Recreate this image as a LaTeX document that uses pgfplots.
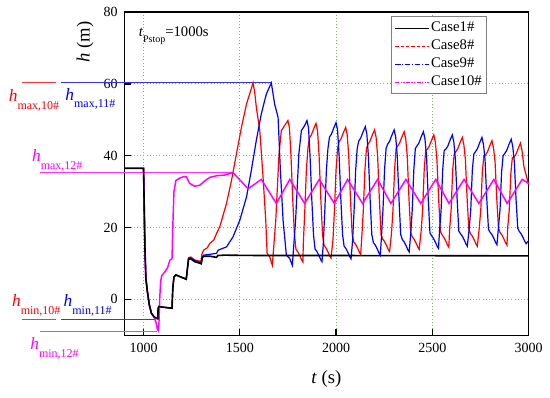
\documentclass[border=0pt]{standalone}
\usepackage{fontspec}
\setmainfont{Liberation Serif}
\usepackage{pgfplots}
\pgfplotsset{compat=1.18}
\definecolor{gridgreen}{RGB}{110,190,110}
\definecolor{mag}{RGB}{255,0,255}
\begin{document}
\begin{tikzpicture}
\useasboundingbox (-93.2pt,-46.35pt) rectangle (319.3pt,251.4pt);
\begin{axis}[
  at={(0,0)}, anchor=south west,
  scale only axis, width=303.2pt, height=242.3pt,
  xmin=900, xmax=3000, ymin=-10, ymax=80,
  xtick={1000,1500,2000,2500,3000}, ytick={0,20,40,60,80},
  tick align=inside, tick pos=left,
  major tick length=5pt,
  axis line style={line width=1pt},
  every tick/.style={black, line width=1pt},
  grid=major, grid style={dotted, gridgreen, line width=0.7pt},
  clip=false,
  /pgf/number format/assume math mode=true,
  /pgf/number format/1000 sep={},
  ticklabel style={font=\fontsize{10.5}{12}\selectfont},
  yticklabel style={xshift=-1.5pt},
  xticklabel style={yshift=-2.5pt},
  xlabel={\textit{t} (s)},
  ylabel={\textit{h} (m)},
  label style={font=\fontsize{14}{16}\selectfont},
  xlabel style={at={(axis description cs:0.5,-0.136)}, anchor=center},
  ylabel style={at={(axis description cs:-0.097,0.907)}, anchor=center},
  legend image code/.code={\draw[#1] (0pt,0pt) -- (25pt,0pt);},
  legend cell align=left,
  legend style={at={(axis description cs:0.897,0.988)}, anchor=north east,
    draw=gray, line width=0.8pt, fill=white,
    font=\fontsize{11}{13}\selectfont, inner xsep=2pt, inner ysep=2pt,
    row sep=0pt,
    nodes={inner sep=1.5pt, text height=8pt, text depth=2.5pt}},
]
% legend images
\addlegendimage{black, line width=1pt}
\addlegendentry{Case1\#}
\addlegendimage{red, line width=0.8pt, dash pattern=on 2.5pt off 1.5pt}
\addlegendentry{Case8\#}
\addlegendimage{blue, line width=0.8pt, dash pattern=on 4pt off 1.2pt on 1pt off 1.2pt}
\addlegendentry{Case9\#}
\addlegendimage{mag, line width=0.8pt, dash pattern=on 3pt off 1pt on 1pt off 1pt on 1pt off 1pt}
\addlegendentry{Case10\#}

% annotation lines
\draw[red!80, line width=0.6pt] (axis cs:370,60.4) -- (axis cs:546,60.4);
\draw[blue!80, line width=0.6pt] (axis cs:570,60.4) -- (axis cs:1664,60.4);
\draw[mag!80, line width=0.6pt] (axis cs:463,35.3) -- (axis cs:1465,35.3);
\draw[red!80, line width=0.6pt] (axis cs:368,-5.55) -- (axis cs:546,-5.55);
\draw[blue!80, line width=0.6pt] (axis cs:572,-5.5) -- (axis cs:1059,-5.5);
\draw[mag!80, line width=0.6pt] (axis cs:463,-8.83) -- (axis cs:1070,-8.83);

% Case8 (red)
\addplot[red, line width=0.9pt, forget plot] coordinates {
(1000,36.5) (1003,28) (1007,15) (1012,6) (1019,2.6) (1030,-1.5) (1041,-3.9) (1055,-4.9) (1067,-5.3) (1074,-5.4) (1076,-2.5) (1080,-2.0) (1100,-2.2) (1120,-2.3) (1148,-2.5) (1152,3) (1158,6.2) (1168,6.8) (1190,6.3) (1222,5.6) (1228,8.5) (1234,11.6) (1245,11.8) (1265,11.0) (1298,10.5) (1303,12.5) (1312,13.7) (1330,14.3) (1345,15.6) (1365,16.5) (1379,18.3) (1396,20.2) (1431,26.7) (1457,33.1) (1483,40.6) (1509,48) (1535,54.4) (1569,60.3) (1578,57.5) (1586,53.5) (1604,47) (1621,34) (1635,22) (1642,12.8) (1655,11.9) (1669,9.5) (1687,22) (1704,40.6) (1716,47) (1733,48.4) (1750,49.8)
(1758,47.8) (1766,40) (1775,28) (1784,18) (1792,13.9) (1802,13.2) (1814,11.9) (1822,10.9) (1828,10.4) (1830,15.4) (1838,25) (1846,36) (1854,42) (1862,45.0) (1872,45.8) (1884,47.5) (1896,49.0)
(1904,47.0) (1912,40) (1921,28) (1930,18) (1938,15.0) (1948,14.3) (1960,13.0) (1968,12.0) (1974,11.5) (1984,16.5) (1992,25) (2000,36) (2008,42) (2016,43.9) (2026,44.7) (2038,46.4) (2050,47.9)
(2058,45.9) (2066,40) (2075,28) (2084,18) (2092,16.0) (2102,15.3) (2114,14.0) (2122,13.0) (2128,12.5) (2134,17.5) (2142,25) (2150,36) (2158,42) (2166,43.2) (2176,44.0) (2188,45.7) (2200,47.2)
(2208,45.2) (2216,40) (2225,28) (2234,18) (2242,16.8) (2252,16.1) (2264,14.8) (2272,13.8) (2278,13.3) (2288,18.3) (2296,25) (2304,36) (2312,42) (2320,42.7) (2330,43.5) (2342,45.2) (2354,46.7)
(2362,44.7) (2370,40) (2379,28) (2388,18.5) (2396,17.4) (2406,16.7) (2418,15.4) (2426,14.4) (2432,13.9) (2442,18.9) (2450,25) (2458,36) (2466,41.5) (2474,41.8) (2484,42.6) (2496,44.3) (2508,45.8)
(2516,43.8) (2524,39) (2533,28) (2542,19) (2550,18.0) (2560,17.3) (2572,16.0) (2580,15.0) (2586,14.5) (2590,19.5) (2598,25) (2606,36) (2614,40.5) (2622,41.1) (2632,41.9) (2644,43.6) (2656,45.1)
(2664,43.1) (2672,39) (2681,28) (2690,19.5) (2698,18.3) (2708,17.6) (2720,16.3) (2728,15.3) (2734,14.8) (2744,19.8) (2752,25) (2760,35.5) (2768,40) (2776,40.2) (2786,41.0) (2798,42.7) (2810,44.2)
(2818,42.2) (2826,38.5) (2835,28) (2844,19.8) (2852,18.6) (2862,17.9) (2874,16.6) (2882,15.6) (2888,15.1) (2892,20.1) (2900,25) (2908,35) (2916,39.5) (2924,39.5) (2934,40.3) (2946,42.0) (2958,43.5)
(2966,41.5) (2976,37) (2988,34.5) (3000,32)
};

% Case9 (blue)
\addplot[blue, line width=0.9pt, forget plot] coordinates {
(1000,36.5) (1003,28) (1007,15) (1012,6) (1019,2.6) (1030,-1.5) (1041,-3.9) (1055,-4.9) (1067,-5.3) (1074,-5.4) (1076,-2.5) (1080,-2.0) (1100,-2.2) (1120,-2.3) (1148,-2.5) (1152,3) (1158,6.2) (1168,6.8) (1190,6.3) (1222,5.6) (1228,8.5) (1234,11.4) (1245,11.5) (1265,10.8) (1300,10.2) (1305,11.8) (1312,12.3) (1379,12.8) (1388,13.7) (1431,14.6) (1465,17.4) (1500,22) (1535,28.5) (1560,35.9) (1586,44.3) (1612,51.7) (1638,57.2) (1664,60.3) (1681,54.4) (1699,50.7) (1711,35.9) (1725,22) (1742,12.3) (1759,11.4) (1773,9.5) (1790,22) (1807,40.6) (1820,47) (1837,48.4) (1849,49.8)
(1857,47.8) (1865,40) (1874,28) (1883,18) (1891,14.0) (1901,13.3) (1913,12.0) (1921,11.0) (1927,10.5) (1934,15.5) (1942,25) (1950,36) (1958,42) (1966,45.2) (1976,46.0) (1988,47.7) (2000,49.2)
(2008,47.2) (2016,40) (2025,28) (2034,18) (2042,14.8) (2052,14.1) (2064,12.8) (2072,11.8) (2078,11.3) (2086,16.3) (2094,25) (2102,36) (2110,42) (2118,44.1) (2128,44.9) (2140,46.6) (2152,48.1)
(2160,46.1) (2168,40) (2177,28) (2186,18) (2194,15.8) (2204,15.1) (2216,13.8) (2224,12.8) (2230,12.3) (2236,17.3) (2244,25) (2252,36) (2260,42) (2268,43.2) (2278,44.0) (2290,45.7) (2302,47.2)
(2310,45.2) (2318,40) (2327,28) (2336,18) (2344,16.7) (2354,16.0) (2366,14.7) (2374,13.7) (2380,13.2) (2388,18.2) (2396,25) (2404,36) (2412,42) (2420,42.7) (2430,43.5) (2442,45.2) (2454,46.7)
(2462,44.7) (2470,40) (2479,28) (2488,18.5) (2496,17.7) (2506,17.0) (2518,15.7) (2526,14.7) (2532,14.2) (2538,19.2) (2546,25) (2554,36) (2562,41.5) (2570,41.8) (2580,42.6) (2592,44.3) (2604,45.8)
(2612,43.8) (2620,39) (2629,28) (2638,19) (2646,18.3) (2656,17.6) (2668,16.3) (2676,15.3) (2682,14.8) (2692,19.8) (2700,25) (2708,36) (2716,40.5) (2724,41.1) (2734,41.9) (2746,43.6) (2758,45.1)
(2766,43.1) (2774,39) (2783,28) (2792,19.5) (2800,18.7) (2810,18.0) (2822,16.7) (2830,15.7) (2836,15.2) (2844,20.2) (2852,25) (2860,35.5) (2868,40) (2876,40.6) (2886,41.4) (2898,43.1) (2910,44.6)
(2918,42.6) (2926,38.5) (2935,28) (2944,19.8) (2952,18.9) (2962,18.2) (2974,16.9) (2982,16.0) (2988,15.5) (3000,16.3)
};

% Case10 (magenta)
\addplot[mag, line width=1.1pt, forget plot] coordinates {
(1000,36.5) (1003,28) (1007,15) (1012,6) (1019,2.6) (1030,-1.5) (1041,-3.9) (1055,-4.9) (1065,-6.5) (1072,-8.3) (1076,-8.7) (1080,-7) (1084,0) (1089,5) (1094,6.5) (1110,7.6) (1125,8.8) (1137,10.9) (1148,11.3) (1152,20) (1158,30) (1168,33.1) (1190,33.8) (1210,34.2) (1223,34.1) (1240,32.3) (1266,31.5) (1293,31.8) (1318,33) (1345,34) (1379,34.4) (1420,34.6) (1465,35.3) (1505,33) (1543,30.8) (1575,32) (1612,33.4) (1690,26.7) (1760,33.4) (1837,26.7) (1913,33.4) (1991,26.7) (2060,33.4) (2138,26.7) (2216,33.4) (2285,26.7) (2363,33.4) (2440,26.7) (2518,33.4) (2587,26.7) (2665,33.4) (2742,26.7) (2820,33.4) (2889,26.7) (2967,33.4) (3000,32.3)
};

% Case1 (black)
\addplot[black, line width=1.2pt, forget plot] coordinates {
(900,36.5) (1000,36.5) (1003,28) (1007,15) (1012,6) (1019,2.6) (1030,-1.5) (1041,-3.9) (1055,-4.9) (1067,-5.3) (1074,-5.4) (1076,-2.5) (1080,-2.0) (1100,-2.2) (1120,-2.3) (1148,-2.5) (1152,3) (1158,6.2) (1168,6.8) (1190,6.3) (1222,5.6) (1228,8.5) (1234,11.2) (1245,11.3) (1265,10.5) (1300,9.9) (1305,11.5) (1312,12.0) (1345,12.0) (1379,11.7) (1386,12.2) (1420,12.3) (1600,12.2) (2000,12.2) (3000,12.1)
};

% text annotations
\node[anchor=base west, inner sep=0] at (axis cs:974,73.1)
  {\fontsize{11}{13}\selectfont\textit{t}\raisebox{-4.5pt}{\fontsize{7.5}{9}\selectfont Pstop}=1000s};
\node[anchor=base west, inner sep=0, red] at (axis cs:299,55.0)
  {\fontsize{13}{15}\selectfont\textit{h}\raisebox{-5.8pt}{\fontsize{9}{10}\selectfont max,10\#}};
\node[anchor=base west, inner sep=0, blue] at (axis cs:593,55.5)
  {\fontsize{13}{15}\selectfont\textit{h}\raisebox{-5.8pt}{\fontsize{9}{10}\selectfont max,11\#}};
\node[anchor=base west, inner sep=0, mag] at (axis cs:420,38.3)
  {\fontsize{13}{15}\selectfont\textit{h}\raisebox{-5.8pt}{\fontsize{9}{10}\selectfont max,12\#}};
\node[anchor=base west, inner sep=0, red] at (axis cs:316,-2.06)
  {\fontsize{13}{15}\selectfont\textit{h}\raisebox{-6pt}{\fontsize{9}{10}\selectfont min,10\#}};
\node[anchor=base west, inner sep=0, blue] at (axis cs:584,-1.87)
  {\fontsize{13}{15}\selectfont\textit{h}\raisebox{-6pt}{\fontsize{9}{10}\selectfont min,11\#}};
\node[anchor=base west, inner sep=0, mag] at (axis cs:411,-14.1)
  {\fontsize{13}{15}\selectfont\textit{h}\raisebox{-6pt}{\fontsize{9}{10}\selectfont min,12\#}};
\end{axis}
\end{tikzpicture}
\end{document}
